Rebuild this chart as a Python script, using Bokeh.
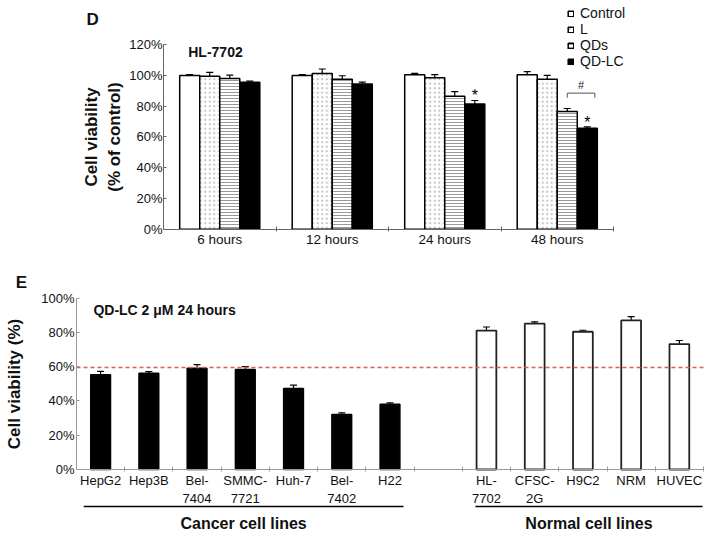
from bokeh.plotting import figure
from bokeh.models import (ColumnDataSource, FixedTicker, PrintfTickFormatter, Whisker, Label,
                          Legend, LegendItem, Range1d, TeeHead, LinearAxis)
from bokeh.layouts import column
from bokeh.embed import file_html
from bokeh.resources import INLINE

FONT = "Liberation Sans"

# ---------------- Panel D data ----------------
time_points = ["6 hours", "12 hours", "24 hours", "48 hours"]
series_names = ["Control", "L", "QDs", "QD-LC"]
control_vals = [100.0, 100.0, 100.5, 100.5]
control_err = [0.6, 0.6, 0.8, 2.0]
l_vals = [99.5, 101.2, 98.5, 97.5]
l_err = [2.5, 3.0, 2.0, 2.6]
qds_vals = [98.0, 97.5, 86.5, 76.5]
qds_err = [2.2, 2.3, 3.0, 2.0]
qdlc_vals = [95.5, 94.5, 81.5, 65.7]
qdlc_err = [0.8, 1.2, 2.2, 0.8]
significant_times = ["24 hours", "48 hours"]

# ---------------- Panel E data ----------------
cancer_lines = ["HepG2", "Hep3B", "Bel-\n7404", "SMMC-\n7721", "Huh-7", "Bel-\n7402", "H22"]
cancer_viab = [55.3, 56.2, 59.1, 58.4, 47.3, 32.1, 38.1]
cancer_err = [2.0, 0.9, 2.1, 1.7, 1.9, 1.0, 0.8]
normal_lines = ["HL-\n7702", "CFSC-\n2G", "H9C2", "NRM", "HUVEC"]
normal_viab = [81.1, 85.2, 80.4, 87.0, 73.2]
normal_err = [2.1, 1.0, 0.9, 2.3, 2.1]
threshold = 59.5

W = 712


def make_fig(height, x0_px, x_scale, y0_px, y_scale):
    """Figure whose frame fills the canvas; data (0,0) at pixel (x0_px, y0_px from top)."""
    xr = Range1d(-x0_px / x_scale, (W - x0_px) / x_scale)
    yr = Range1d(-(height - y0_px) / y_scale, y0_px / y_scale)
    p = figure(width=W, height=height, x_range=xr, y_range=yr, output_backend="svg",
               toolbar_location=None, title=None, x_axis_location=None, y_axis_location=None,
               min_border=0, min_border_left=0, min_border_right=0, min_border_top=0,
               min_border_bottom=0)
    p.xgrid.visible = False
    p.ygrid.visible = False
    p.outline_line_color = None
    return p


def style_axis(ax, color):
    ax.axis_line_color = color
    ax.axis_line_width = 1
    ax.major_label_text_font = FONT
    ax.major_label_text_font_size = "13px"
    ax.major_label_text_color = "#111111"
    ax.axis_label_text_font = FONT
    ax.axis_label_text_font_style = "bold"
    ax.axis_label_text_color = "#111111"


# ================= Panel D =================
pD = make_fig(258, 163, 112.5, 228.7, 1.5375)
centersD = [i + 0.5 for i in range(len(time_points))]

yD = LinearAxis(fixed_location=0, bounds=(0, 120))
style_axis(yD, "#666666")
yD.ticker = FixedTicker(ticks=[0, 20, 40, 60, 80, 100, 120])
yD.formatter = PrintfTickFormatter(format="%d%%")
yD.major_tick_in = 3
yD.major_tick_out = 0
yD.major_tick_line_color = "#666666"
yD.minor_tick_line_color = None
yD.major_label_standoff = 1
yD.axis_label = "Cell viability\n(% of control)"
yD.axis_label_text_font_size = "17px"
yD.axis_label_standoff = 2
pD.add_layout(yD, "left")

xD = LinearAxis(fixed_location=0, bounds=(0, len(time_points)))
style_axis(xD, "#666666")
xD.ticker = FixedTicker(ticks=centersD, minor_ticks=[i + 1 for i in range(len(time_points))])
xD.major_label_overrides = {c: t for c, t in zip(centersD, time_points)}
xD.major_tick_line_color = None
xD.major_tick_in = 0
xD.major_tick_out = 0
xD.minor_tick_line_color = "#666666"
xD.minor_tick_in = 3
xD.minor_tick_out = 2
xD.major_label_text_font_size = "13.5px"
xD.major_label_standoff = 1
pD.add_layout(xD, "below")

bar_w = 0.178
offsets = [-1.5 * bar_w, -0.5 * bar_w, 0.5 * bar_w, 1.5 * bar_w]
series_vals = [control_vals, l_vals, qds_vals, qdlc_vals]
series_errs = [control_err, l_err, qds_err, qdlc_err]
styles = [
    dict(fill_color="white"),
    dict(fill_color="white", hatch_pattern="dot", hatch_color="#c2c2c2", hatch_scale=4.5, hatch_weight=1),
    dict(fill_color="white", hatch_pattern="horizontal_line", hatch_color="#999999", hatch_scale=3, hatch_weight=1),
    dict(fill_color="black"),
]
legend_items = []
for name, vals, errs, off, st in zip(series_names, series_vals, series_errs, offsets, styles):
    xs = [c + off for c in centersD]
    src = ColumnDataSource(dict(x=xs, top=vals, lower=vals, upper=[v + e for v, e in zip(vals, errs)]))
    r = pD.vbar(x="x", top="top", bottom=0, width=bar_w, source=src,
                line_color="black", line_width=1.5, **st)
    pD.add_layout(Whisker(base="x", lower="lower", upper="upper", source=src,
                          line_color="black", line_width=1.2,
                          upper_head=TeeHead(size=7, line_color="black", line_width=1.2),
                          lower_head=None))
    legend_items.append(LegendItem(label=name, renderers=[r]))

legend = Legend(items=legend_items, location=(567, 189), glyph_width=7, glyph_height=7,
                label_text_font=FONT, label_text_font_size="14px", label_standoff=6,
                label_text_color="#111111",
                spacing=0, padding=0, margin=0, label_height=16, border_line_color=None,
                background_fill_alpha=0)
pD.add_layout(legend)

# significance markers
for t in significant_times:
    i = time_points.index(t)
    xq = centersD[i] + offsets[3]
    pD.add_layout(Label(x=xq, y=qdlc_vals[i] + qdlc_err[i] + 3.2, text="*", text_align="center",
                        text_baseline="middle", text_font=FONT, text_font_size="16px",
                        text_color="black"))
i48 = time_points.index("48 hours")
x_left = centersD[i48] + offsets[2]
x_right = centersD[i48] + offsets[3] + 0.067
y_base = qds_vals[i48] + qds_err[i48]
pD.line(x=[x_left, x_left, x_right, x_right], y=[y_base + 7, y_base + 10, y_base + 10, y_base + 7],
        line_color="#555555", line_width=1)
pD.add_layout(Label(x=(x_left + x_right) / 2, y=y_base + 15.5, text="#", text_align="center",
                    text_baseline="middle", text_font=FONT, text_font_size="11px",
                    text_color="#222222"))

pD.add_layout(Label(x=0.22, y=115, text="HL-7702", text_baseline="middle", text_font=FONT,
                    text_font_style="bold", text_font_size="14px", text_color="#111111"))
pD.add_layout(Label(x=-0.684, y=136.4, text="D", text_baseline="middle", text_font=FONT,
                    text_font_style="bold", text_font_size="17px", text_color="#111111"))

# ================= Panel E =================
n_c = len(cancer_lines)
n_n = len(normal_lines)
n_slots = n_c + 1 + n_n
pE = make_fig(279, 76, 48.23, 211, 1.713)

yE = LinearAxis(fixed_location=0, bounds=(0, 100))
style_axis(yE, "#999999")
yE.ticker = FixedTicker(ticks=[0, 20, 40, 60, 80, 100])
yE.formatter = PrintfTickFormatter(format="%d%%")
yE.major_tick_in = 3
yE.major_tick_out = 0
yE.major_tick_line_color = "#999999"
yE.minor_tick_line_color = None
yE.major_label_standoff = 2
yE.axis_label = "Cell viability (%)"
yE.axis_label_text_font_size = "17px"
yE.axis_label_standoff = 14
pE.add_layout(yE, "left")

cx = [i + 0.5 for i in range(n_c)]
nx = [n_c + 1 + i + 0.5 for i in range(n_n)]
xE = LinearAxis(fixed_location=0, bounds=(0, n_slots))
style_axis(xE, "#999999")
xE.ticker = FixedTicker(ticks=cx + nx, minor_ticks=[i + 1 for i in range(n_slots)])
xE.major_label_overrides = {**{c: t for c, t in zip(cx, cancer_lines)},
                            **{c: t for c, t in zip(nx, normal_lines)}}
xE.major_tick_line_color = None
xE.major_tick_in = 0
xE.major_tick_out = 0
xE.minor_tick_line_color = "#999999"
xE.minor_tick_in = 3
xE.minor_tick_out = 2
xE.major_label_standoff = 1
pE.add_layout(xE, "below")

bw = 0.41
srcC = ColumnDataSource(dict(x=cx, top=cancer_viab, lower=cancer_viab,
                             upper=[v + e for v, e in zip(cancer_viab, cancer_err)]))
srcN = ColumnDataSource(dict(x=nx, top=normal_viab, lower=normal_viab,
                             upper=[v + e for v, e in zip(normal_viab, normal_err)]))
pE.vbar(x="x", top="top", bottom=0, width=bw, source=srcC, fill_color="black",
        line_color="black", line_width=1.5)
pE.vbar(x="x", top="top", bottom=0, width=bw, source=srcN, fill_color="white",
        line_color="#222222", line_width=1.8)
for src in (srcC, srcN):
    pE.add_layout(Whisker(base="x", lower="lower", upper="upper", source=src,
                          line_color="black", line_width=1.2,
                          upper_head=TeeHead(size=7, line_color="black", line_width=1.2),
                          lower_head=None))

# 60% reference line across the plotting area
pE.line(x=[0, n_slots], y=[threshold, threshold], line_color="#e05a5a",
        line_dash="4 3", line_width=1.5)

# group underlines and labels
groups = [("Cancer cell lines", 0 + 0.15, n_c - 0.22), ("Normal cell lines", n_c + 1 + 0.27, n_slots - 0.02)]
for gname, gs, ge in groups:
    pE.line(x=[gs, ge], y=[-21.6, -21.6], line_color="black", line_width=1.5)
    pE.add_layout(Label(x=(gs + ge) / 2, y=-31.6, text=gname, text_align="center",
                        text_baseline="middle", text_font=FONT, text_font_style="bold",
                        text_font_size="16px", text_color="#111111"))

pE.add_layout(Label(x=0.35, y=93.4, text="QD-LC 2 μM 24 hours", text_baseline="middle",
                    text_font=FONT, text_font_style="bold", text_font_size="14px",
                    text_color="#111111"))
pE.add_layout(Label(x=-1.26, y=109.2, text="E", text_baseline="middle", text_font=FONT,
                    text_font_style="bold", text_font_size="17px", text_color="#111111"))

layout = column(pD, pE, spacing=0)
open("out.html", "w").write(file_html(layout, INLINE))
